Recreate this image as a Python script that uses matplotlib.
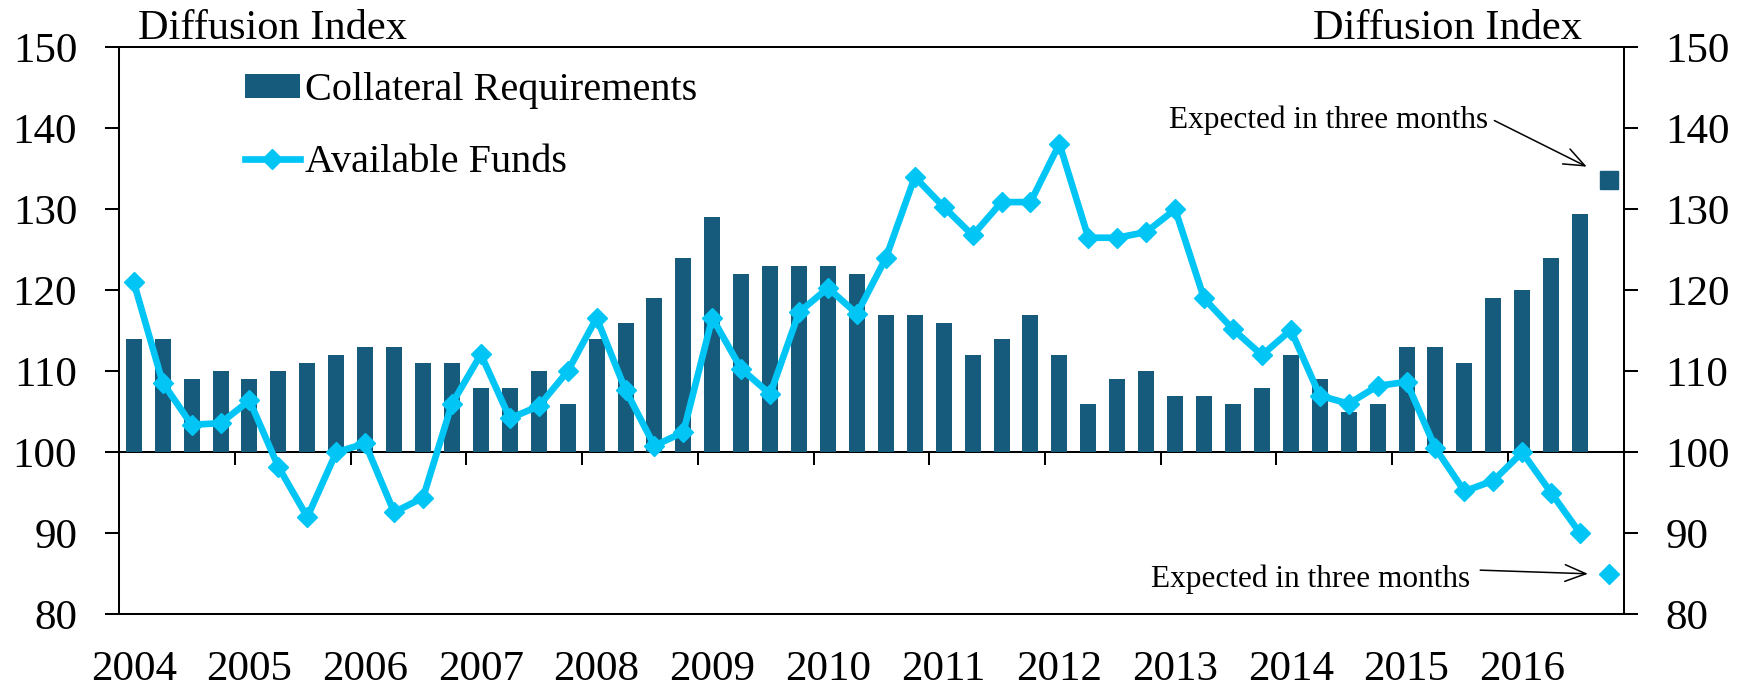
import numpy as np
import matplotlib
matplotlib.use("Agg")
import matplotlib.pyplot as plt

plt.rcParams["font.family"] = ["Liberation Serif", "DejaVu Serif"]

# ---------------- data ----------------
year_labels = [str(y) for y in range(2004, 2017)]
collateral = [114, 114, 109, 110, 109, 110, 111, 112, 113, 113, 111, 111,
              108, 108, 110, 106, 114, 116, 119, 124, 129, 122, 123, 123,
              123, 122, 117, 117, 116, 112, 114, 117, 112, 106, 109, 110,
              107, 107, 106, 108, 112, 109, 105, 106, 113, 113, 111, 119,
              120, 124, 129.4]
collateral_expected = 133.6
funds = [121, 108.6, 103.4, 103.6, 106.4, 98.2, 92.0, 100, 101.1, 92.6, 94.4, 106,
         112.1, 104.2, 105.7, 110, 116.6, 107.7, 100.8, 102.5, 116.6, 110.3, 107.2, 117.3,
         120.3, 117.1, 124, 134, 130.3, 126.8, 130.9, 130.9, 138.1, 126.5, 126.5, 127.2,
         130, 119, 115.2, 112, 115.1, 107, 106, 108.2, 108.7, 100.5, 95.2, 96.5,
         100, 95, 90]
funds_expected = 85
y_ticks = [80, 90, 100, 110, 120, 130, 140, 150]
base = 100
series_names = ["Collateral Requirements", "Available Funds"]
note = "Expected in three months"
axis_title = "Diffusion Index"

bar_color = "#175B7C"
line_color = "#00C5F5"

W, H = 1746, 688
fig = plt.figure(figsize=(W / 100, H / 100), dpi=100)
left, right, top, bottom = 119.3, 1623.5, 47.4, 614.3
ax = fig.add_axes([left / W, (H - bottom) / H, (right - left) / W, (bottom - top) / H])

n = len(collateral)
x = np.arange(n)
x_exp = n

bars = ax.bar(x, np.array(collateral) - base, bottom=base, width=0.553, color=bar_color,
              zorder=2, label=series_names[0])
line, = ax.plot(x, funds, color=line_color, lw=4.8, marker="D", ms=10, zorder=4,
                solid_joinstyle="round", label=series_names[1])
ax.plot([x_exp], [collateral_expected], marker="s", ms=13.5, color=bar_color, ls="none", zorder=4)
ax.plot([x_exp], [funds_expected], marker="D", ms=10, color=line_color, ls="none", zorder=4)

ax.set_xlim(-0.5, n + 0.5)
ax.set_ylim(y_ticks[0], y_ticks[-1])
ax.set_yticks(y_ticks)
ax.set_yticklabels([str(v) for v in y_ticks])

ax.set_xticks(np.arange(0, n + 1, 4))
ax.set_xticklabels(year_labels)
ax.tick_params(axis="x", length=0, pad=26, labelsize=31)
ax.tick_params(axis="y", direction="out", length=9.8, width=1.45, pad=20.5,
               labelsize=31, left=True, right=True, labelleft=True, labelright=True)
for s in ax.spines.values():
    s.set_linewidth(1.45)
    s.set_color("black")

# x axis crossing at 100 with boundary ticks
loc = (base - y_ticks[0]) / (y_ticks[-1] - y_ticks[0])
sec = ax.secondary_xaxis(loc)
sec.set_xticks(np.arange(3.5, n, 4))
sec.tick_params(axis="x", direction="out", length=9.2, width=1.45, labelbottom=False, labeltop=False)
sec.spines["bottom"].set_linewidth(1.45)
sec.spines["top"].set_linewidth(1.45)

# titles
fig.text(138 / W, (H - 38.6) / H, axis_title, ha="left", va="baseline", fontsize=30.5)
fig.text(1582 / W, (H - 38.6) / H, axis_title, ha="right", va="baseline", fontsize=30.5)

# annotations
arrow1 = dict(arrowstyle="->, head_length=0.75, head_width=0.3", color="black", lw=1.1,
              shrinkA=3, shrinkB=0, mutation_scale=20, relpos=(1.0, 0.6))
arrow2 = dict(arrowstyle="->, head_length=0.75, head_width=0.3", color="black", lw=1.1,
              shrinkA=5, shrinkB=0, mutation_scale=20, relpos=(1.0, 0.82))
ax.annotate(note, xy=(x_exp - 0.77, collateral_expected + 1.67), xytext=(x_exp - 4.19, 140.05),
            ha="right", va="baseline", fontsize=22.5, arrowprops=arrow1)
ax.annotate(note, xy=(x_exp - 0.73, funds_expected), xytext=(x_exp - 4.79, 83.37),
            ha="right", va="baseline", fontsize=22.5, arrowprops=arrow2)

leg = fig.legend([bars, line], series_names, loc="upper left",
                 bbox_to_anchor=(245 / W, 1 - 72 / H), frameon=False,
                 fontsize=29, borderpad=0, borderaxespad=0, handlelength=1.36,
                 handleheight=0.55, handletextpad=0.12, labelspacing=0.88)

fig.savefig("out.png", dpi=100)
